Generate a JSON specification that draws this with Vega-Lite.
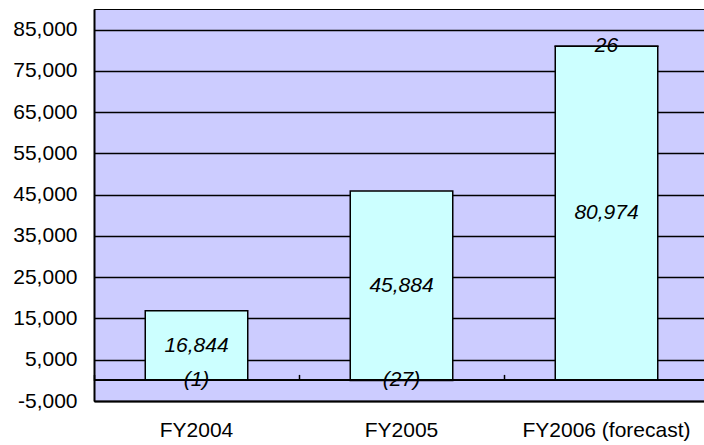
{
  "$schema": "https://vega.github.io/schema/vega-lite/v6.json",
  "width": 615,
  "height": 392,
  "autosize": {"type": "none"},
  "padding": {"left": 94, "top": 9, "right": 0, "bottom": 44},
  "background": "#FFFFFF",
  "config": {
    "view": {"fill": "#CCCCFF", "stroke": "#000000", "strokeWidth": 1},
    "font": "Liberation Sans"
  },
  "data": {
    "values": [
      {"fy": "FY2004", "part": "a", "v": 16844},
      {"fy": "FY2004", "part": "b", "v": -1},
      {"fy": "FY2005", "part": "a", "v": 45884},
      {"fy": "FY2005", "part": "b", "v": -27},
      {"fy": "FY2006 (forecast)", "part": "a", "v": 80974},
      {"fy": "FY2006 (forecast)", "part": "b", "v": 26}
    ]
  },
  "resolve": {"axis": {"x": "independent"}},
  "layer": [
    {
      "mark": {"type": "bar", "fill": "#CCFFFF", "stroke": "#000000", "strokeWidth": 1.5},
      "encoding": {
        "x": {
          "field": "fy", "type": "nominal", "sort": null,
          "scale": {"paddingInner": 0.5, "paddingOuter": 0.25},
          "axis": {
            "title": null, "orient": "bottom", "labelAngle": 0,
            "labelFont": "Liberation Sans", "labelFontSize": 21, "labelColor": "#000000",
            "labelPadding": 18, "ticks": false,
            "domain": true, "domainColor": "#000000", "domainWidth": 2
          }
        },
        "y": {
          "field": "v", "type": "quantitative", "stack": "zero",
          "scale": {"domain": [-5000, 90000], "nice": false, "zero": false},
          "axis": {
            "title": null,
            "values": [-5000, 5000, 15000, 25000, 35000, 45000, 55000, 65000, 75000, 85000],
            "labelExpr": "datum.value < 0 ? '-' + format(-datum.value, ',') : format(datum.value, ',')",
            "labelFont": "Liberation Sans", "labelFontSize": 21, "labelColor": "#000000",
            "labelPadding": 17, "ticks": false,
            "grid": true, "gridColor": "#000000", "gridOpacity": 1, "gridWidth": 1.5,
            "domain": true, "domainColor": "#000000", "domainWidth": 2
          }
        },
        "detail": {"field": "part"},
        "order": {"field": "part"}
      }
    },
    {
      "mark": {"type": "rule", "color": "#000000", "strokeWidth": 1.5},
      "encoding": {
        "y": {"datum": 0, "type": "quantitative"}
      }
    },
    {
      "mark": {"type": "text", "fontStyle": "italic", "fontSize": 21, "font": "Liberation Sans", "color": "#000000", "baseline": "middle"},
      "encoding": {
        "x": {
          "field": "fy", "type": "nominal", "sort": null,
          "axis": {
            "title": null, "orient": "bottom", "offset": -26.6,
            "labels": false, "domain": false, "grid": false,
            "ticks": true, "bandPosition": -0.5, "tickSize": 6,
            "tickColor": "#000000", "tickWidth": 1.5, "zindex": 1
          }
        },
        "y": {"field": "v", "type": "quantitative", "stack": "zero", "bandPosition": 0.5},
        "detail": {"field": "part"},
        "order": {"field": "part"},
        "text": {"field": "v", "type": "quantitative", "format": "(,"}
      }
    }
  ]
}
